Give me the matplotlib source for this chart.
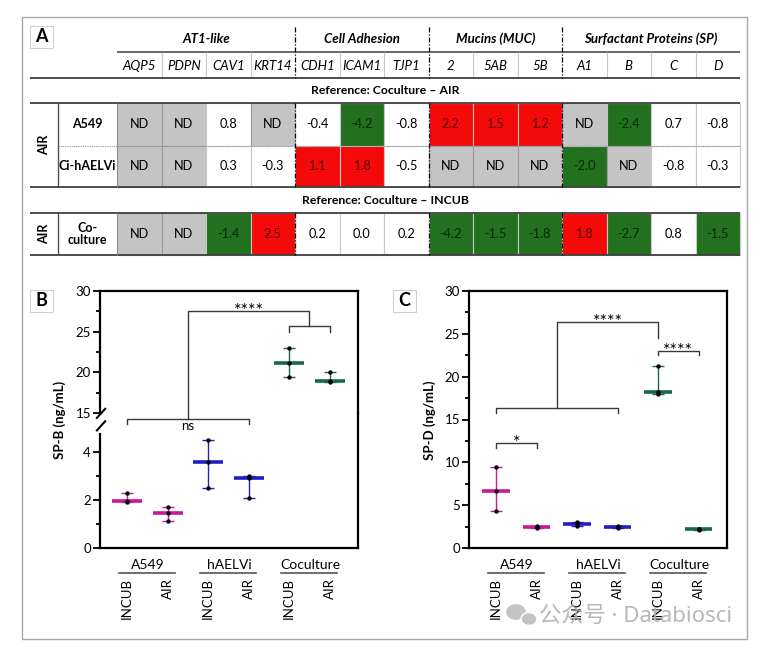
import numpy as np
import matplotlib
matplotlib.use('Agg')
import matplotlib.pyplot as plt
from matplotlib.patches import Rectangle, Ellipse
from matplotlib.transforms import blended_transform_factory

plt.rcParams['font.family'] = ['Lato', 'DejaVu Sans']

# ---------------- panel A : fold change table ----------------
genes = ['AQP5', 'PDPN', 'CAV1', 'KRT14', 'CDH1', 'ICAM1', 'TJP1',
         '2', '5AB', '5B', 'A1', 'B', 'C', 'D']
gene_groups = ['AT1-like', 'Cell Adhesion', 'Mucins (MUC)', 'Surfactant Proteins (SP)']
group_sizes = [4, 3, 3, 4]
nd = np.nan
a549_air = [nd, nd, 0.8, nd, -0.4, -4.2, -0.8, 2.2, 1.5, 1.2, nd, -2.4, 0.7, -0.8]
haelvi_air = [nd, nd, 0.3, -0.3, 1.1, 1.8, -0.5, nd, nd, nd, -2.0, nd, -0.8, -0.3]
cocult_air = [nd, nd, -1.4, 2.5, 0.2, 0.0, 0.2, -4.2, -1.5, -1.8, 1.8, -2.7, 0.8, -1.5]
row_names = ['A549', 'Ci-hAELVi', 'Co-\nculture']
references = ['Reference: Coculture – AIR', 'Reference: Coculture – INCUB']

# ---------------- panels B / C : ELISA ----------------
cell_types = ['A549', 'hAELVi', 'Coculture']
conditions = ['INCUB', 'AIR', 'INCUB', 'AIR', 'INCUB', 'AIR']
spb = [[2.28, 1.95, 1.93], [1.72, 1.46, 1.14], [4.50, 3.57, 2.51],
       [3.01, 2.90, 2.07], [23.0, 21.15, 19.4], [20.0, 18.95, 18.8]]
spd = [[9.5, 6.65, 4.3], [2.58, 2.48, 2.35], [2.98, 2.76, 2.62],
       [2.52, 2.42, 2.36], [21.3, 18.2, 18.0], [2.24, 2.18, 2.12]]
colors = ['#c8189b', '#1f1fc4', '#17694a']

W, H = 765, 660
fig = plt.figure(figsize=(W / 100, H / 100), dpi=100)


def fx(p):
    return p / W


def fy(p):
    return 1 - p / H


# outer frame
fig.add_artist(Rectangle((fx(22), fy(639)), 725 / W, 622 / H, transform=fig.transFigure,
                         fill=False, edgecolor='#a8a8a8', lw=1))

# ---- table axes: x in column units, y in pixels ----
cw = 44.5
x0 = 117
axT = fig.add_axes([0, 0, 1, 1])
axT.set_xlim(-x0 / cw, (W - x0) / cw)
axT.set_ylim(H, 0)
axT.axis('off')
axT.patch.set_alpha(0)

left_edge = (30 - x0) / cw
name_edge = (58 - x0) / cw
ncol = len(genes)

red, green, grey = '#f50a0a', '#23701f', '#c4c4c4'

# group headers and gene names
start = 0
for name, n in zip(gene_groups, group_sizes):
    axT.text(start + n / 2, 39, name, ha='center', va='center', fontsize=9.5,
             fontweight='bold', fontstyle='italic')
    start += n
for i, g in enumerate(genes):
    axT.text(i + 0.5, 65.5, g, ha='center', va='center', fontsize=9.5, fontstyle='italic')
axT.hlines(52, 0, ncol, color='#404040', lw=1.1)
seps = np.cumsum(group_sizes)[:-1]
for i in range(1, ncol):
    if i not in seps:
        axT.vlines(i, 52, 78, color='#c8c8c8', lw=0.8)

rows = [(a549_air, 103, 146), (haelvi_air, 146, 187), (cocult_air, 213, 255)]
for r, (vals, ya, yb) in enumerate(rows):
    for c, v in enumerate(vals):
        if np.isnan(v):
            fc, ec, txt, tc = grey, '#9a9a9a', 'ND', 'black'
        elif v >= 1:
            fc, ec, txt, tc = red, '#c8c8c8', f'{v:.1f}', '#5a0000'
        elif v <= -1:
            fc, ec, txt, tc = green, '#c8c8c8', f'{v:.1f}', '#082808'
        else:
            fc, ec, txt, tc = 'white', '#c8c8c8', f'{v:.1f}', 'black'
        axT.add_patch(Rectangle((c, ya), 1, yb - ya, facecolor=fc, edgecolor=ec, lw=0.8))
        axT.text(c + 0.5, (ya + yb) / 2, txt, ha='center', va='center', fontsize=9.2, color=tc)
    axT.text((name_edge) / 2, (ya + yb) / 2, row_names[r], ha='center', va='center',
             fontsize=9, fontweight='bold', linespacing=1.1)

axT.text((left_edge + name_edge) / 2, 145, 'AIR', rotation=90, ha='center', va='center',
         fontsize=9, fontweight='bold')
axT.text((left_edge + name_edge) / 2, 234, 'AIR', rotation=90, ha='center', va='center',
         fontsize=9, fontweight='bold')
axT.text((385 - x0) / cw, 91, references[0], ha='center', va='center', fontsize=8.8,
         fontweight='bold')
axT.text((385 - x0) / cw, 200.5, references[1], ha='center', va='center', fontsize=8.8,
         fontweight='bold')

axT.hlines(146, name_edge, ncol, color='#9a9a9a', lw=0.8, linestyle=(0, (1, 1)))
axT.hlines([78, 103, 187, 213, 255], left_edge, ncol, color='#404040', lw=1.3)
for ya, yb in [(103, 187), (213, 255)]:
    axT.vlines(name_edge, ya, yb, color='#505050', lw=1)
    axT.vlines(0, ya, yb, color='#909090', lw=0.8)
for s in seps:
    for ya, yb in [(27, 78), (103, 187), (213, 255)]:
        axT.vlines(s, ya, yb, color='black', lw=0.9, linestyle=(0, (4, 1.5, 1, 1.5)))

# panel letters
for letter, (lx, ly) in zip('ABC', [(30, 26), (30, 290), (393, 290)]):
    fig.add_artist(Rectangle((fx(lx), fy(ly + 22)), 23 / W, 22 / H, transform=fig.transFigure,
                             fill=False, edgecolor='#cfcfcf', lw=0.8))
    fig.text(fx(lx + 11.5), fy(ly + 11), letter, ha='center', va='center', fontsize=13,
             fontweight='bold')


# ---- scatter panels ----
def style(ax):
    for s in ax.spines.values():
        s.set_linewidth(1.6)
    ax.tick_params(axis='y', which='major', length=5, width=1.3, labelsize=9.5, pad=1.5)
    ax.tick_params(axis='y', which='minor', length=3, width=1.3)
    ax.set_xlim(-0.67, 5.7)
    ax.patch.set_visible(False)


def draw_groups(ax, data, half=0.37):
    for i, pts in enumerate(data):
        col = colors[i // 2]
        med = np.median(pts)
        ax.hlines(med, i - half, i + half, color=col, lw=2.6, zorder=2)
        ax.vlines(i, min(pts), max(pts), color=col, lw=1, zorder=2)
        ax.hlines([min(pts), max(pts)], i - 0.15, i + 0.15, color=col, lw=1, zorder=2)
        ax.scatter([i] * len(pts), pts, s=10, color='black', zorder=3, linewidths=0)


def xlabels(ax):
    ax.set_xticks(range(len(conditions)))
    ax.set_xticklabels(conditions, rotation=90, fontsize=9.5)
    ax.tick_params(axis='x', length=0, pad=21.5)
    tr = blended_transform_factory(ax.transData, fig.transFigure)
    for g, name in enumerate(cell_types):
        ax.text(2 * g + 0.52, fy(565), name, transform=tr, ha='center', va='center',
                fontsize=10, clip_on=False)
        ax.plot([2 * g - 0.19, 2 * g + 1.19], [fy(573), fy(573)], transform=tr,
                color='#555555', lw=1.2, clip_on=False)


def bracket(ax, xa, xb, y, ya, yb=None, lw=1):
    yb = ya if yb is None else yb
    ax.plot([xa, xa, xb, xb], [ya, y, y, yb], color='#3a3a3a', lw=lw, clip_on=False)


# panel B (broken axis)
axBt = fig.add_axes([fx(100), fy(413), 258 / W, 122 / H])
axBb = fig.add_axes([fx(100), fy(548), 258 / W, 135 / H])
for ax in (axBt, axBb):
    style(ax)
    draw_groups(ax, spb)
axBt.set_ylim(15, 30)
axBt.set_yticks([15, 20, 25, 30])
axBt.set_yticks([17.5, 22.5, 27.5], minor=True)
axBt.spines['bottom'].set_visible(False)
axBt.set_xticks([])
axBb.set_ylim(0, 5.625)
axBb.set_yticks([0, 2, 4])
axBb.set_yticks([1, 3], minor=True)
axBb.spines['top'].set_visible(False)
axBb.spines['left'].set_bounds(0, 4.75)
xlabels(axBb)
ytr = axBb.get_yaxis_transform()
for ya, yb in [(5.42, 5.80), (4.90, 5.28)]:
    axBb.plot([-0.012, 0.02], [ya, yb], transform=ytr, color='black', lw=1.5, clip_on=False)
fig.text(fx(60), fy(420), 'SP-B (ng/mL)', rotation=90, ha='center', va='center',
         fontsize=9.5, fontweight='bold')

bracket(axBt, 0, 3, 14.22, 13.64)
axBt.text(1.5, 12.9, 'ns', ha='center', va='baseline', fontsize=9.5)
bracket(axBt, 1.5, 4.5, 27.58, 14.22, 25.73)
axBt.text(3.0, 26.9, '****', ha='center', va='baseline', fontsize=13)
bracket(axBt, 4, 5, 25.73, 25.0)

# panel C
axC = fig.add_axes([fx(469), fy(548), 258 / W, 257 / H])
style(axC)
draw_groups(axC, spd, half=0.34)
axC.set_ylim(0, 30)
axC.set_yticks(range(0, 31, 5))
axC.set_yticks(np.arange(2.5, 30, 5), minor=True)
xlabels(axC)
fig.text(fx(430), fy(420), 'SP-D (ng/mL)', rotation=90, ha='center', va='center',
         fontsize=9.5, fontweight='bold')

bracket(axC, 1.5, 4, 26.34, 16.3, 24.54)
axC.text(2.75, 25.8, '****', ha='center', va='baseline', fontsize=13)
bracket(axC, 4, 5, 23.02, 22.52)
axC.text(4.5, 22.4, '****', ha='center', va='baseline', fontsize=13)
bracket(axC, 0, 3, 16.3, 15.72)
bracket(axC, 0, 1, 12.22, 11.7)
axC.text(0.5, 11.7, '*', ha='center', va='baseline', fontsize=13)

# watermark
fig.add_artist(Ellipse((fx(516), fy(612)), 21 / W, 17 / H, transform=fig.transFigure,
                       facecolor='#bdbdbd', edgecolor='white', lw=1, alpha=0.9))
fig.add_artist(Ellipse((fx(529), fy(619)), 16 / W, 13 / H, transform=fig.transFigure,
                       facecolor='#bdbdbd', edgecolor='white', lw=1.2, alpha=0.9))
fig.text(fx(539), fy(616), '公众号 · Databiosci', ha='left', va='center',
         fontsize=16, color='#b0b0b0', alpha=0.9, family=['Noto Sans', 'Noto Sans CJK SC'])

fig.savefig('out.png', dpi=100, facecolor='white')
